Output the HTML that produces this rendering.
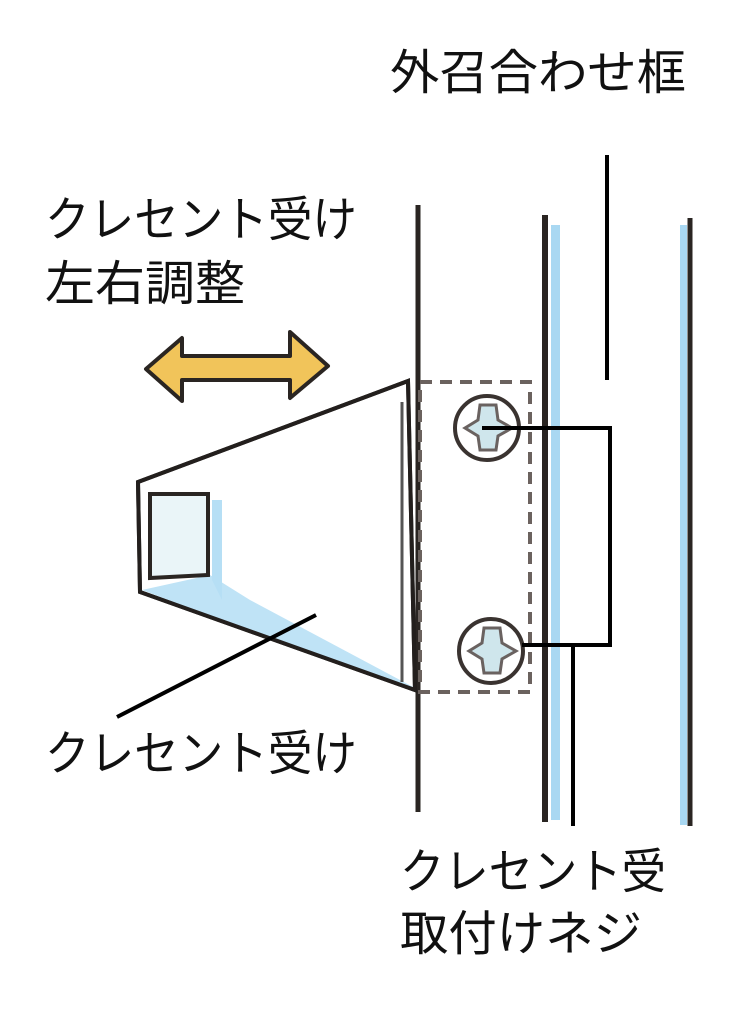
<!DOCTYPE html>
<html><head><meta charset="utf-8"><style>
html,body{margin:0;padding:0;background:#fff;}
svg{display:block}
text{font-family:"Liberation Sans","Noto Sans CJK JP",sans-serif;fill:#111;font-size:48px;}
</style></head><body>
<svg width="741" height="1017" viewBox="0 0 741 1017" xmlns="http://www.w3.org/2000/svg">
<rect width="741" height="1017" fill="#fff"/>
<!-- blue strips -->
<rect x="551" y="225" width="9" height="595" fill="#a9d8f2"/>
<rect x="680" y="225" width="7" height="600" fill="#a9d8f2"/>
<!-- vertical frame lines -->
<line x1="418" y1="205" x2="418" y2="812" stroke="#2a2522" stroke-width="5"/>
<line x1="545" y1="215" x2="545" y2="822" stroke="#2a2522" stroke-width="6"/>
<line x1="690" y1="218" x2="690" y2="826" stroke="#2a2522" stroke-width="5"/>
<!-- leader from top label -->
<line x1="607" y1="155" x2="607" y2="380" stroke="#000" stroke-width="4"/>
<!-- dashed plate -->
<rect x="420" y="382" width="110" height="310" fill="none" stroke="#6b625e" stroke-width="4" stroke-dasharray="12,8"/>
<!-- trapezoid -->
<polygon points="138,482 408,381 415,690 140,592" fill="#fff" stroke="#231f1d" stroke-width="4"/>
<polygon points="142,590 210,575 250,600 415,688 300,650" fill="#bfe3f6"/>
<polygon points="150,494 208,494 208,575 150,578" fill="#eaf5f8" stroke="#2a2522" stroke-width="4"/>
<polygon points="212,500 222,500 222,600 212,580" fill="#b6dff5"/>
<polygon points="138,482 408,381 415,690 140,592" fill="none" stroke="#231f1d" stroke-width="4"/>
<line x1="402" y1="402" x2="402" y2="682" stroke="#555" stroke-width="3"/>
<!-- screws -->
<g stroke="#3a3330" stroke-width="4" fill="#fff">
<circle cx="487" cy="428" r="32"/>
<circle cx="491" cy="651" r="32"/>
</g>
<g stroke="#6a6260" stroke-width="3" fill="#cfe6ec">
<path d="M480,405 L496,405 L498,420 L512,428 L498,436 L496,450 L480,450 L478,436 L465,428 L478,420 Z"/>
<path d="M484,628 L500,628 L502,643 L516,651 L502,659 L500,673 L484,673 L482,659 L469,651 L482,643 Z"/>
</g>
<!-- bracket leader -->
<polyline points="482,428 610,428 610,645 522,645" fill="none" stroke="#000" stroke-width="4"/>
<line x1="573" y1="645" x2="573" y2="826" stroke="#000" stroke-width="4"/>
<!-- leader lower label -->
<line x1="117" y1="717" x2="316" y2="615" stroke="#000" stroke-width="4"/>
<!-- double arrow -->
<polygon points="146,369 182,338 182,356 290,356 290,332 328,366 290,398 290,380 182,380 182,401" fill="#f1c45a" stroke="#2a2522" stroke-width="4" stroke-linejoin="round"/>
<!-- texts -->
<text x="390" y="89" textLength="296" lengthAdjust="spacingAndGlyphs">外召合わせ框</text>
<text x="45" y="236" textLength="312" lengthAdjust="spacingAndGlyphs">クレセント受け</text>
<text x="45" y="300" textLength="200" lengthAdjust="spacingAndGlyphs">左右調整</text>
<text x="45" y="770" textLength="312" lengthAdjust="spacingAndGlyphs">クレセント受け</text>
<text x="400" y="888" textLength="266" lengthAdjust="spacingAndGlyphs">クレセント受</text>
<text x="400" y="950" textLength="242" lengthAdjust="spacingAndGlyphs">取付けネジ</text>
</svg>
</body></html>
